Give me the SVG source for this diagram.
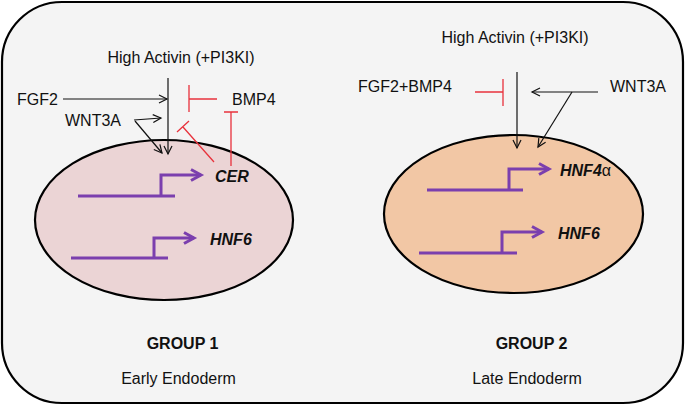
<svg xmlns="http://www.w3.org/2000/svg" width="685" height="406" viewBox="0 0 685 406">
<style>
text{font-family:"Liberation Sans",Arial,sans-serif;fill:#111;}
.lbl{font-size:16px;}
.gene{font-size:16px;font-weight:bold;font-style:italic;}
.grp{font-size:16px;font-weight:bold;}
.sub{font-size:16px;}
.act{stroke:#111;stroke-width:1.2;fill:none;}
.inh{stroke:#e8323c;stroke-width:1.3;fill:none;}
.gn{stroke:#7b3fae;stroke-width:3;fill:none;}
.cell{stroke:#000;stroke-width:2.2;}
</style>
<defs>
<marker id="ah" markerUnits="userSpaceOnUse" markerWidth="12" markerHeight="12" refX="9" refY="5" orient="auto">
<path d="M1,1 L9,5 L1,9" fill="none" stroke="#111" stroke-width="1.2"/>
</marker>
<marker id="gh" markerUnits="userSpaceOnUse" markerWidth="16" markerHeight="16" refX="12" refY="7" orient="auto">
<path d="M2,1.5 L12,7 L2,12.5" fill="none" stroke="#7b3fae" stroke-width="3"/>
</marker>
</defs>
<rect x="2" y="2" width="681" height="401" rx="60" ry="60" fill="#f4f4f4" stroke="#000" stroke-width="2.2"/>

<g id="cell1">
<ellipse class="cell" cx="164" cy="220" rx="129" ry="80" fill="#ebd4d5"/>
</g>
<g id="cell2">
<ellipse class="cell" cx="513.5" cy="214" rx="129.5" ry="79" fill="#f2c7a5"/>
</g>

<g id="gene-cer">
<path class="gn" d="M78,196 H175 M161,196 V175 H201" marker-end="url(#gh)"/>
<text class="gene" x="215" y="182">CER</text>
</g>
<g id="gene-hnf6-1">
<path class="gn" d="M71,258 H168 M154,258 V238 H194" marker-end="url(#gh)"/>
<text class="gene" x="210" y="245">HNF6</text>
</g>
<g id="gene-hnf4a">
<path class="gn" d="M427,190 H523 M509,190 V169 H549" marker-end="url(#gh)"/>
<text class="gene" x="560" y="176">HNF4<tspan font-weight="normal" font-style="normal">α</tspan></text>
</g>
<g id="gene-hnf6-2">
<path class="gn" d="M419,253 H517 M502,253 V232 H542" marker-end="url(#gh)"/>
<text class="gene" x="558" y="239">HNF6</text>
</g>

<g id="labels1">
<text class="lbl" x="181" y="63" text-anchor="middle">High Activin  (+PI3KI)</text>
<text class="lbl" x="17" y="105">FGF2</text>
<text class="lbl" x="232" y="105">BMP4</text>
<text class="lbl" x="65" y="126">WNT3A</text>
</g>
<g id="labels2">
<text class="lbl" x="515" y="43" text-anchor="middle">High Activin  (+PI3KI)</text>
<text class="lbl" x="358" y="92">FGF2+BMP4</text>
<text class="lbl" x="610" y="92">WNT3A</text>
</g>

<g id="connectors">
<line class="act" x1="168" y1="78" x2="168" y2="154" marker-end="url(#ah)"/>
<line class="act" x1="63" y1="99" x2="167" y2="99" marker-end="url(#ah)"/>
<line class="act" x1="134" y1="120" x2="161" y2="118" marker-end="url(#ah)"/>
<line class="act" x1="135" y1="121" x2="162" y2="153" marker-end="url(#ah)"/>
<path class="inh" d="M217,99 H189 M189,85 V112"/>
<path class="inh" d="M231,166 V112 M224,112 H238"/>
<path class="inh" d="M214,162 L183,127 M177,132 L189,121"/>

<line class="act" x1="517" y1="72" x2="517" y2="148" marker-end="url(#ah)"/>
<line class="act" x1="598" y1="92" x2="532" y2="92" marker-end="url(#ah)"/>
<line class="act" x1="572" y1="92" x2="538" y2="147" marker-end="url(#ah)"/>
<path class="inh" d="M475,92 H503 M503,79 V106"/>
</g>

<g id="captions">
<text class="grp" x="182.5" y="349" text-anchor="middle">GROUP 1</text>
<text class="sub" x="178.5" y="384" text-anchor="middle">Early Endoderm</text>
<text class="grp" x="531.5" y="349" text-anchor="middle">GROUP 2</text>
<text class="sub" x="527" y="384" text-anchor="middle">Late Endoderm</text>
</g>
</svg>
